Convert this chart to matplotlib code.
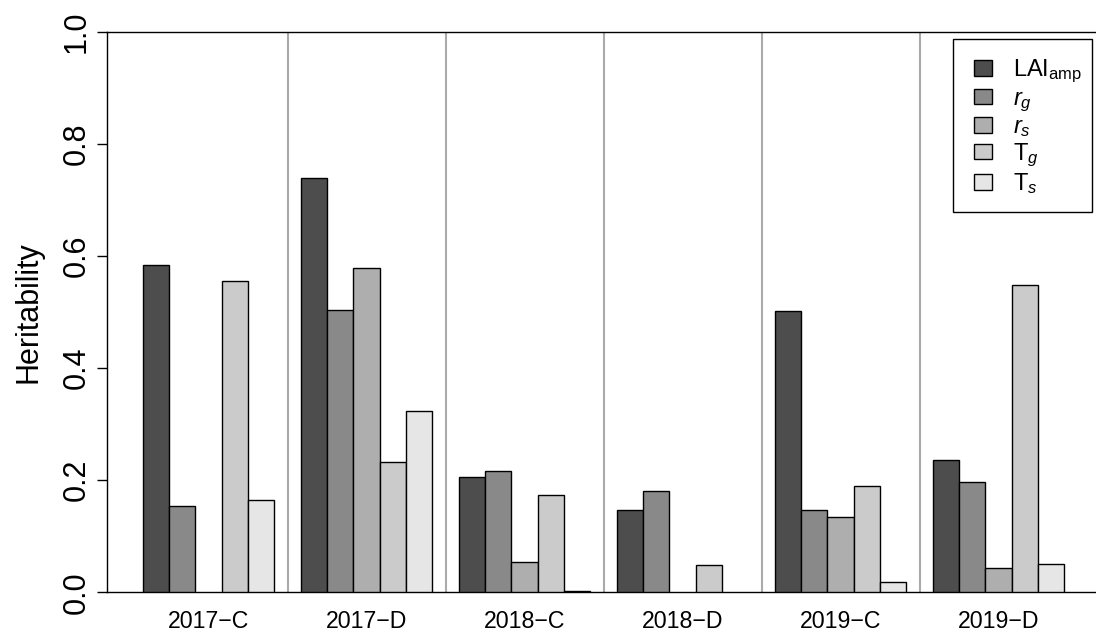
import numpy as np
import matplotlib
matplotlib.use("Agg")
import matplotlib.pyplot as plt
from matplotlib.patches import Patch, Rectangle

plt.rcParams['font.family'] = ['Liberation Sans', 'DejaVu Sans']
plt.rcParams['mathtext.fontset'] = 'custom'
plt.rcParams['mathtext.rm'] = 'Liberation Sans'
plt.rcParams['mathtext.it'] = 'Liberation Sans:italic'

groups = ['2017\u2212C', '2017\u2212D', '2018\u2212C', '2018\u2212D', '2019\u2212C', '2019\u2212D']
series = ['LAI$_{\\mathrm{amp}}$', '$r_g$', '$r_s$', 'T$_g$', 'T$_s$']
colors = ['#4d4d4d', '#898989', '#aeaeae', '#cbcbcb', '#e6e6e6']

lai_amp = [0.584, 0.739, 0.205, 0.146, 0.502, 0.236]
r_g     = [0.154, 0.504, 0.217, 0.181, 0.146, 0.196]
r_s     = [np.nan, 0.579, 0.054, np.nan, 0.135, 0.044]
t_g     = [0.555, 0.232, 0.174, 0.049, 0.190, 0.548]
t_s     = [0.165, 0.323, 0.003, np.nan, 0.019, 0.051]
values = [lai_amp, r_g, r_s, t_g, t_s]

W, H = 1096, 634
fig = plt.figure(figsize=(W / 100, H / 100), dpi=100)
x0, y_top, y_bot = 106.5, 31.7, 592.3
ax = fig.add_axes([x0 / W, 1 - y_bot / H, (W - x0) / W, (y_bot - y_top) / H])

ngroup = len(groups)
nser = len(series)
for j, (vals, c) in enumerate(zip(values, colors)):
    for i, v in enumerate(vals):
        if np.isnan(v):
            continue
        ax.bar(i * (nser + 1) + 1 + j, v, width=1, align='edge', color=c,
               edgecolor='black', linewidth=1.0, zorder=3)

ax.set_xlim(-0.38, 37.2)
ax.set_ylim(0, 1.0)
seps = [(nser + 1) * k + 0.5 for k in range(1, ngroup)]
ax.vlines(seps, 0, 1.0, color='#aaaaaa', lw=1.5, zorder=1)

ax.spines['right'].set_visible(False)
for s in ['left', 'bottom', 'top']:
    ax.spines[s].set_linewidth(1.0)

centers = [(nser + 1) * i + 1 + nser / 2 for i in range(ngroup)]
ax.set_xticks(centers)
ax.set_xticklabels(groups, fontsize=16.7)
ax.tick_params(axis='x', length=0, pad=13)
ax.set_yticks([0, 0.2, 0.4, 0.6, 0.8, 1.0])
ax.set_yticklabels(['0.0', '0.2', '0.4', '0.6', '0.8', '1.0'], rotation=90, va='center', fontsize=22)
ax.tick_params(axis='y', length=7, width=1.0, pad=3.5)
ax.set_ylabel('Heritability', fontsize=22, labelpad=13)

# legend frame drawn separately so the padding can be asymmetric, as in the reference
fig.patches.append(Rectangle((953 / W, 1 - 211.7 / H), (1091.7 - 953) / W, (211.7 - 39.3) / H,
                             transform=fig.transFigure, facecolor='white', edgecolor='black',
                             linewidth=1.0, zorder=5))
handles = [Patch(facecolor=c, edgecolor='black', linewidth=1.0) for c in colors]
leg = fig.legend(handles, series, loc='upper left',
                 bbox_to_anchor=(974 / W, 1 - 58 / H), bbox_transform=fig.transFigure,
                 borderaxespad=0, frameon=False,
                 fontsize=17, handlelength=0.76, handleheight=0.64, labelspacing=0.1,
                 handletextpad=0.9, borderpad=0)
leg.set_zorder(6)

fig.savefig('out.png', dpi=100)
